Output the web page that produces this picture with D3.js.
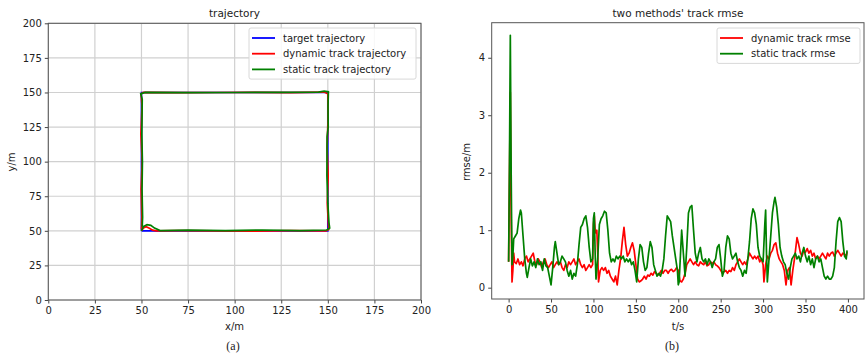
<!DOCTYPE html>
<html>
<head>
<meta charset="utf-8">
<script src="https://cdn.jsdelivr.net/npm/d3@7"></script>
<style>
  body { margin: 0; background: #fff; }
  text { font-family: "DejaVu Sans", sans-serif; fill: #222; }
</style>
</head>
<body>
<div id="chart"></div>
<script>
// ---- data ----
const xyTicks = [0, 25, 50, 75, 100, 125, 150, 175, 200]
const tTicks = [0, 50, 100, 150, 200, 250, 300, 350, 400]
const rmseTicks = [0, 1, 2, 3, 4]

const targetPath = [[50, 50], [150, 50], [150, 150], [50, 150], [50, 50]]
const dynamicPath = [[50, 50], [51, 52], [52.5, 53], [54, 52], [56, 50.5], [58, 50], [70, 50.2], [90, 50], [110, 49.8], [130, 50.1], [149, 50], [150.5, 51], [150.3, 55], [149.7, 70], [150.2, 90], [149.6, 110], [150.1, 130], [150, 149], [148, 150.3], [130, 149.9], [110, 150.1], [90, 150], [70, 149.9], [51, 150], [49.8, 149], [50.3, 140], [49.7, 120], [50.4, 100], [49.8, 80], [50.2, 60], [50, 51]]
const staticPath = [[50, 50], [51, 53], [53, 54.5], [55, 54], [57, 52], [60, 50.2], [75, 50.5], [95, 50.1], [115, 50.6], [135, 50.2], [149.5, 50.6], [151, 52], [150.6, 56], [150, 70], [149.5, 90], [149.6, 118], [150.2, 125], [150.1, 140], [150.3, 150.5], [148, 151], [145, 150.3], [125, 150.1], [100, 150], [75, 149.9], [52, 150], [49.6, 149], [50.4, 145], [50.2, 120], [50.5, 100], [50.3, 80], [50.6, 60], [50.4, 53]]

const dynamicRmse = [[0, 0.45], [1, 1.9], [2, 3.4], [3, 1.2], [4, 0.1], [5, 0.3], [6, 0.6], [7, 0.45], [9, 0.42], [11, 0.5], [13, 0.4], [15, 0.45], [17, 0.38], [19, 0.5], [21, 0.55], [23, 0.45], [25, 0.5], [27, 0.55], [29, 0.6], [31, 0.45], [33, 0.4], [35, 0.5], [37, 0.45], [39, 0.35], [41, 0.45], [43, 0.5], [45, 0.4], [47, 0.35], [49, 0.4], [51, 0.45], [53, 0.35], [55, 0.4], [57, 0.45], [59, 0.4], [61, 0.45], [63, 0.35], [65, 0.3], [67, 0.4], [69, 0.35], [71, 0.45], [73, 0.4], [75, 0.45], [77, 0.5], [79, 0.4], [81, 0.45], [83, 0.5], [85, 0.4], [87, 0.35], [89, 0.4], [91, 0.3], [93, 0.35], [95, 0.4], [97, 0.35], [99, 0.4], [100, 1.1], [101, 1.25], [102, 1.0], [103, 0.95], [104, 1.0], [105, 0.6], [106, 0.1], [108, 0.3], [110, 0.35], [112, 0.3], [114, 0.35], [116, 0.25], [118, 0.3], [120, 0.2], [122, 0.15], [124, 0.1], [126, 0.2], [128, 0.05], [130, 0.3], [132, 0.5], [134, 0.8], [136, 1.05], [138, 0.75], [140, 0.55], [142, 0.6], [144, 0.7], [146, 0.78], [148, 0.65], [150, 0.4], [152, 0.15], [154, 0.1], [156, 0.12], [158, 0.15], [160, 0.2], [162, 0.15], [164, 0.22], [166, 0.2], [168, 0.25], [170, 0.22], [172, 0.28], [174, 0.25], [176, 0.22], [178, 0.25], [180, 0.3], [182, 0.25], [184, 0.3], [186, 0.3], [188, 0.25], [190, 0.3], [192, 0.32], [194, 0.28], [196, 0.3], [198, 0.35], [200, 0.3], [202, 0.12], [204, 0.1], [206, 0.15], [208, 0.25], [210, 0.4], [212, 0.45], [214, 0.5], [216, 0.45], [218, 0.4], [220, 0.45], [222, 0.4], [224, 0.38], [226, 0.45], [228, 0.42], [230, 0.4], [232, 0.45], [234, 0.38], [236, 0.4], [238, 0.45], [240, 0.42], [242, 0.45], [244, 0.4], [246, 0.38], [248, 0.35], [250, 0.3], [252, 0.25], [254, 0.28], [256, 0.3], [258, 0.25], [260, 0.3], [262, 0.28], [264, 0.35], [266, 0.3], [268, 0.4], [270, 0.45], [272, 0.5], [274, 0.45], [276, 0.4], [278, 0.45], [280, 0.4], [282, 0.5], [284, 0.6], [286, 0.55], [288, 0.5], [290, 0.55], [292, 0.5], [294, 0.55], [296, 0.45], [298, 0.5], [300, 0.4], [301, 0.1], [303, 0.4], [305, 0.55], [307, 0.5], [309, 0.6], [311, 0.65], [313, 0.75], [315, 0.78], [317, 0.6], [319, 0.5], [321, 0.45], [323, 0.4], [325, 0.3], [327, 0.05], [329, 0.3], [331, 0.35], [333, 0.05], [335, 0.3], [337, 0.5], [339, 0.75], [340, 0.87], [342, 0.75], [344, 0.6], [346, 0.55], [348, 0.65], [350, 0.62], [352, 0.68], [354, 0.6], [356, 0.65], [358, 0.55], [360, 0.6], [362, 0.5], [364, 0.55], [366, 0.5], [368, 0.55], [370, 0.6], [372, 0.55], [374, 0.5], [376, 0.6], [378, 0.55], [380, 0.6], [382, 0.62], [384, 0.55], [386, 0.6], [388, 0.65], [390, 0.6], [392, 0.55], [394, 0.6], [396, 0.58], [398, 0.55], [399, 0.62]]

const staticRmse = [[0, 0.45], [1, 2.2], [2, 4.39], [3, 2.0], [4, 0.4], [5, 0.55], [6, 0.85], [8, 0.9], [10, 0.95], [12, 1.2], [14, 1.35], [15, 1.3], [17, 0.9], [19, 0.5], [21, 0.25], [22, 0.18], [24, 0.35], [26, 0.5], [28, 0.38], [30, 0.45], [32, 0.35], [34, 0.5], [36, 0.4], [38, 0.45], [40, 0.3], [42, 0.5], [44, 0.38], [46, 0.35], [48, 0.2], [50, 0.05], [52, 0.35], [54, 0.7], [55, 0.8], [57, 0.6], [59, 0.4], [61, 0.45], [63, 0.55], [65, 0.5], [67, 0.45], [69, 0.3], [71, 0.2], [73, 0.3], [75, 0.15], [77, 0.25], [79, 0.2], [81, 0.4], [83, 0.75], [85, 1.05], [87, 1.1], [89, 1.2], [91, 1.25], [93, 1.05], [95, 0.7], [97, 0.45], [99, 0.5], [100, 1.2], [101, 1.3], [102, 0.6], [103, 0.15], [105, 0.5], [107, 1.1], [109, 1.2], [111, 1.25], [113, 1.33], [115, 1.3], [117, 1.0], [119, 0.6], [121, 0.45], [123, 0.5], [125, 0.45], [127, 0.55], [129, 0.5], [131, 0.55], [133, 0.5], [135, 0.55], [137, 0.45], [139, 0.5], [141, 0.45], [143, 0.5], [145, 0.4], [147, 0.45], [149, 0.3], [151, 0.1], [153, 0.5], [155, 0.75], [157, 0.7], [159, 0.45], [161, 0.3], [163, 0.35], [165, 0.6], [167, 0.8], [169, 0.7], [171, 0.4], [173, 0.3], [175, 0.2], [177, 0.25], [179, 0.2], [181, 0.3], [183, 0.5], [185, 0.9], [187, 1.25], [189, 1.2], [191, 1.15], [193, 0.9], [195, 0.7], [197, 0.5], [199, 0.3], [200, 0.05], [201, 0.1], [203, 0.7], [204, 1.0], [206, 0.6], [208, 0.2], [210, 0.7], [212, 1.3], [214, 1.4], [216, 1.43], [218, 1.0], [220, 0.6], [222, 0.45], [224, 0.6], [226, 0.7], [228, 0.5], [230, 0.45], [232, 0.5], [234, 0.4], [236, 0.5], [238, 0.45], [240, 0.35], [242, 0.45], [244, 0.5], [246, 0.7], [248, 0.75], [250, 0.5], [252, 0.2], [254, 0.3], [256, 0.7], [258, 0.9], [260, 0.85], [262, 0.6], [264, 0.5], [266, 0.55], [268, 0.6], [270, 0.45], [272, 0.35], [274, 0.3], [276, 0.2], [278, 0.3], [280, 0.25], [282, 0.5], [284, 0.8], [286, 1.2], [288, 1.37], [290, 1.3], [292, 1.1], [294, 0.7], [296, 0.55], [298, 0.5], [300, 0.45], [302, 1.1], [303, 1.35], [304, 0.6], [305, 0.1], [307, 0.5], [309, 0.9], [311, 1.3], [313, 1.5], [314, 1.57], [316, 1.4], [318, 1.1], [320, 0.7], [322, 0.55], [324, 0.45], [326, 0.4], [328, 0.25], [330, 0.15], [332, 0.35], [334, 0.5], [336, 0.55], [338, 0.6], [340, 0.5], [342, 0.55], [344, 0.45], [346, 0.6], [348, 0.7], [350, 0.55], [352, 0.45], [354, 0.55], [356, 0.4], [358, 0.5], [360, 0.35], [362, 0.5], [364, 0.55], [366, 0.45], [368, 0.5], [370, 0.35], [372, 0.2], [374, 0.15], [376, 0.2], [378, 0.15], [380, 0.15], [382, 0.2], [384, 0.35], [386, 0.8], [388, 1.15], [390, 1.22], [392, 1.15], [394, 0.8], [396, 0.55], [398, 0.5], [399, 0.65]]

const W = 865, H = 357
const svg = d3.select('#chart').append('svg').attr('width', W).attr('height', H)

function drawAxes(g, x, y, xt, yt, grid) {
  const [x0, x1] = x.range(), [y0, y1] = y.range()
  if (grid) {
    g.append('g').selectAll('line.gx').data(xt).join('line')
      .attr('x1', d => x(d)).attr('x2', d => x(d)).attr('y1', y0).attr('y2', y1)
      .attr('stroke', '#d0d0d0').attr('stroke-width', 1.2)
    g.append('g').selectAll('line.gy').data(yt).join('line')
      .attr('y1', d => y(d)).attr('y2', d => y(d)).attr('x1', x0).attr('x2', x1)
      .attr('stroke', '#d0d0d0').attr('stroke-width', 1.2)
  }
  const ax = g.append('g').attr('transform', `translate(0,${y0})`)
    .call(d3.axisBottom(x).tickValues(xt).tickFormat(d3.format('d')).tickSize(3.5).tickPadding(3).tickSizeOuter(0))
  const ay = g.append('g').attr('transform', `translate(${x0},0)`)
    .call(d3.axisLeft(y).tickValues(yt).tickFormat(d3.format('d')).tickSize(3.5).tickPadding(3).tickSizeOuter(0))
  for (const a of [ax, ay]) {
    a.select('.domain').remove()
    a.selectAll('line').attr('stroke', '#444')
    a.selectAll('text').attr('font-size', 10).attr('fill', '#333')
      .attr('font-family', '"DejaVu Sans", sans-serif')
  }
  g.append('rect').attr('x', x0).attr('y', y1).attr('width', x1 - x0).attr('height', y0 - y1)
    .attr('fill', 'none').attr('stroke', '#555').attr('stroke-width', 1)
}

function legend(g, x, y, w, items) {
  const h = items.length * 15.7 + 4
  g.append('rect').attr('x', x).attr('y', y).attr('width', w).attr('height', h)
    .attr('rx', 2).attr('fill', 'white').attr('fill-opacity', 0.85)
    .attr('stroke', '#d8d8d8')
  items.forEach((it, i) => {
    const cy = y + 10 + i * 15.7
    g.append('line').attr('x1', x + 3).attr('x2', x + 26).attr('y1', cy).attr('y2', cy)
      .attr('stroke', it.color).attr('stroke-width', 1.8)
    g.append('text').attr('x', x + 34).attr('y', cy).attr('dy', '0.35em')
      .attr('font-size', 10).attr('fill', '#333').text(it.label)
  })
}

const line = (x, y) => d3.line().x(d => x(d[0])).y(d => y(d[1]))

// ---- (a) trajectory ----
const xA = d3.scaleLinear().domain([0, 200]).range([48.3, 421])
const yA = d3.scaleLinear().domain([0, 200]).range([300, 23.3])
const gA = svg.append('g')
drawAxes(gA, xA, yA, xyTicks, xyTicks, true)
const paths = [
  { data: targetPath, color: 'blue', label: 'target trajectory' },
  { data: dynamicPath, color: 'red', label: 'dynamic track trajectory' },
  { data: staticPath, color: 'green', label: 'static track trajectory' }
]
paths.forEach(p => {
  gA.append('path').attr('d', line(xA, yA)(p.data)).attr('fill', 'none')
    .attr('stroke', p.color).attr('stroke-width', 1.7)
})
legend(gA, 249, 28, 167, paths)
gA.append('text').attr('x', 234.5).attr('y', 17).attr('text-anchor', 'middle').attr('font-size', 10.5).text('trajectory')
gA.append('text').attr('x', 234.5).attr('y', 330).attr('text-anchor', 'middle').attr('font-size', 10).text('x/m')
gA.append('text').attr('transform', 'translate(15,162) rotate(-90)').attr('text-anchor', 'middle').attr('font-size', 10).text('y/m')
gA.append('text').attr('x', 233).attr('y', 350).attr('text-anchor', 'middle').attr('font-size', 12)
  .style('font-family', '"Liberation Serif", serif').text('(a)')

// ---- (b) rmse ----
const xB = d3.scaleLinear().domain([-19.95, 418.95]).range([491.7, 864])
const yB = d3.scaleLinear().domain([-0.197, 4.61]).range([299, 22.7])
const gB = svg.append('g')
drawAxes(gB, xB, yB, tTicks, rmseTicks, false)
const series = [
  { data: dynamicRmse, color: 'red', label: 'dynamic track rmse' },
  { data: staticRmse, color: 'green', label: 'static track rmse' }
]
series.forEach(s => {
  gB.append('path').attr('d', line(xB, yB)(s.data)).attr('fill', 'none')
    .attr('stroke', s.color).attr('stroke-width', 1.7).attr('stroke-linejoin', 'round')
})
legend(gB, 717, 28, 143, series)
gB.append('text').attr('x', 678).attr('y', 17).attr('text-anchor', 'middle').attr('font-size', 10.5).text("two methods' track rmse")
gB.append('text').attr('x', 678).attr('y', 330).attr('text-anchor', 'middle').attr('font-size', 10).text('t/s')
gB.append('text').attr('transform', 'translate(470,162) rotate(-90)').attr('text-anchor', 'middle').attr('font-size', 10).text('rmse/m')
gB.append('text').attr('x', 672).attr('y', 350).attr('text-anchor', 'middle').attr('font-size', 12)
  .style('font-family', '"Liberation Serif", serif').text('(b)')
</script>
</body>
</html>
